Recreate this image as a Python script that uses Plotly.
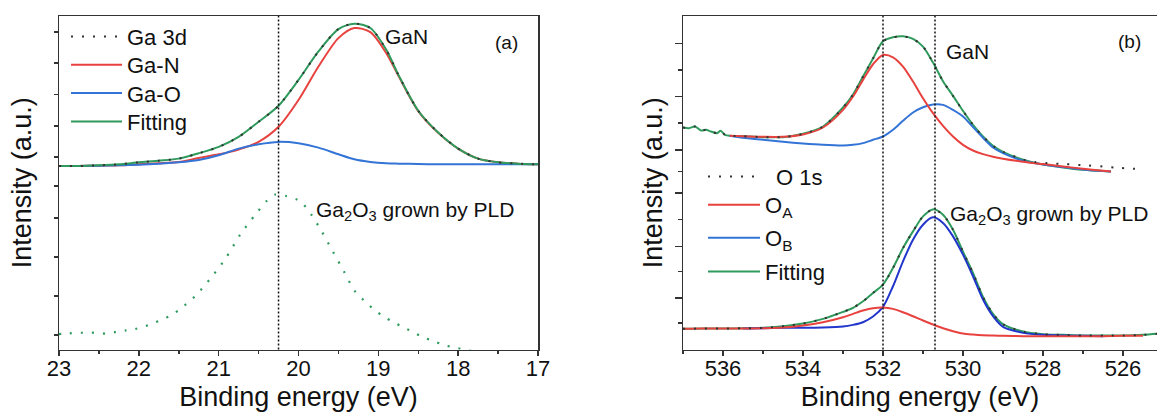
import plotly.graph_objects as go

# ================= panel (a): Ga 3d =================
ev_a = [23.0, 22.75, 22.5, 22.25, 22.0, 21.75, 21.5, 21.25, 21.0, 20.75, 20.5, 20.25, 20.0,
        19.75, 19.5, 19.3, 19.1, 18.9, 18.75, 18.5, 18.25, 18.0, 17.75, 17.5, 17.25, 17.0]
ga3d_data_a = [548, 548, 550, 553, 559, 564, 570, 586, 605, 635, 680, 728, 805,
               890, 957, 973, 960, 895, 821, 713, 648, 600, 570, 559, 555, 553]
gaN_a = [548, 548, 549, 550, 553, 556, 560, 572, 583, 597, 620, 665, 745,
         845, 930, 960, 948, 885, 818, 712, 647, 600, 570, 559, 555, 553]
gaO_a = [548, 548, 549, 550, 552, 555, 559, 566, 580, 600, 613, 620, 616,
         603, 583, 568, 560, 556, 555, 554, 553, 553, 553, 553, 553, 553]
fit_a = [548, 548, 550, 553, 559, 564, 570, 586, 605, 635, 680, 728, 805,
         890, 957, 973, 960, 895, 821, 713, 648, 600, 570, 559, 555, 553]

ev_pld_a = [23.0, 22.88, 22.74, 22.63, 22.51, 22.4, 22.28, 22.16, 22.05, 21.93, 21.82, 21.7,
            21.59, 21.47, 21.28, 21.1, 20.91, 20.73, 20.54, 20.4, 20.29, 20.15, 19.98, 19.84,
            19.71, 19.57, 19.43, 19.29, 19.14, 19.05, 18.93, 18.82, 18.7, 18.59, 18.45, 18.31,
            18.17, 18.03, 17.89, 17.75, 17.61]
pld_a = [46, 48, 50, 50, 50, 47, 53, 57, 61, 69, 78, 91,
         103, 123, 163, 213, 273, 343, 403, 443, 463, 458, 443, 403,
         353, 293, 233, 173, 138, 118, 98, 83, 68, 55, 38, 25,
         13, 5, -2, -5, -7]
vline_a = [20.25]
xticks_a = [23, 22, 21, 20, 19, 18, 17]
xminor_a = [22.5, 21.5, 20.5, 19.5, 18.5, 17.5]
yticks_a = [948, 855, 761, 668, 575, 488, 393, 276, 160, 43]

# ================= panel (b): O 1s =================
ev_noise_b = [537.0, 536.85, 536.7, 536.55, 536.43, 536.3, 536.15, 536.06, 535.95]
noise_b = [667, 665, 670, 658, 660, 655, 650, 657, 645]
ev_top_b = [535.83, 535.5, 535.0, 534.5, 534.0, 533.5, 533.0, 532.75, 532.5, 532.25, 532.0,
            531.75, 531.5, 531.25, 531.0, 530.75, 530.5, 530.25, 530.0, 529.75, 529.5,
            529.25, 529.0, 528.5, 528.0, 527.5, 527.0, 526.5, 526.3]
fit_top_b = [642, 641, 638, 638, 648, 670, 727, 766, 820, 874, 926,
             938, 941, 933, 910, 862, 806, 762, 717, 675, 640,
             612, 594, 570, 556, 547, 540, 536, 535]
oA_top_b = [642, 641, 639, 639, 646, 667, 720, 760, 810, 857, 885,
            878, 850, 805, 755, 710, 672, 640, 615, 598, 587,
            579, 573, 564, 557, 550, 543, 537, 535]
oB_top_b = [642, 636, 630, 624, 619, 615, 613, 615, 620, 630, 640,
            660, 687, 712, 728, 736, 735, 720, 700, 668, 636,
            607, 590, 567, 556, 548, 541, 536, 535]
ev_data_top_b = [537.0, 536.85, 536.7, 536.55, 536.43, 536.3, 536.15, 536.06, 535.95,
                 535.83, 535.5, 535.0, 534.5, 534.0, 533.5, 533.0, 532.75, 532.5, 532.25, 532.0,
                 531.75, 531.5, 531.25, 531.0, 530.75, 530.5, 530.25, 530.0, 529.75, 529.5,
                 529.25, 529.0, 528.5, 528.2, 527.9, 527.45, 526.9, 526.5, 526.15, 525.7]
data_top_b = [667, 665, 670, 658, 660, 655, 650, 657, 645,
              642, 641, 638, 638, 648, 670, 727, 766, 820, 874, 926,
              938, 941, 933, 910, 862, 806, 762, 717, 675, 640,
              612, 594, 571, 563, 560, 557, 553, 550, 546, 543]

ev_bot_b = [537.0, 536.5, 536.0, 535.5, 535.0, 534.5, 534.0, 533.5, 533.0, 532.75, 532.5,
            532.25, 532.0, 531.75, 531.5, 531.25, 531.0, 530.75, 530.5, 530.25, 530.0,
            529.75, 529.5, 529.25, 529.0, 528.5, 528.0, 527.5, 527.0, 526.5, 526.0, 525.5, 525.15]
fit_bot_b = [62, 63, 63, 64, 65, 70, 78, 92, 113, 125, 145,
             170, 195, 245, 305, 355, 400, 421, 405, 360, 294,
             230, 158, 107, 76, 54, 46, 44, 42, 42, 42, 44, 47]
data_bot_b = [62, 63, 63, 64, 65, 70, 78, 92, 113, 125, 145,
              170, 195, 245, 305, 355, 400, 421, 405, 360, 294,
              230, 158, 107, 76, 54, 46, 44, 42, 42, 42, 44, 47]
oA_bot_b = [62, 63, 63, 63, 64, 66, 72, 82, 97, 107, 117,
            124, 126, 122, 112, 100, 87, 75, 64, 55, 48,
            45, 43, 42, 41, 40, 40, 40, 40, 40, 41, 41]
ev_oB_bot_b = [535.5, 535.0, 534.5, 534.0, 533.5, 533.0, 532.75, 532.5, 532.25, 532.0,
               531.75, 531.5, 531.25, 531.0, 530.75, 530.5, 530.25, 530.0, 529.75, 529.5,
               529.25, 529.0, 528.5, 528.0, 527.5, 527.0, 526.5]
oB_bot_b = [63, 64, 65, 65, 66, 69, 74, 82, 99, 128,
            190, 265, 330, 375, 397, 380, 340, 285, 220, 150,
            100, 68, 50, 44, 42, 41, 40]
vlines_b = [532.0, 530.7]
xticks_b = [536, 534, 532, 530, 528, 526]
xminor_b = [537, 535, 533, 531, 529, 527, 525]
ymajor_b = [920, 760, 600, 470, 310, 155]
yminor_b = [840, 680, 535, 390, 235, 80]

RED = "#E8423F"
BLUE = "#3374D6"
DBLUE = "#2236CC"
GREEN = "#2E9A5C"
FONT = "Arial, Liberation Sans, sans-serif"
DOT = "2px,9px"

W, H = 1157, 412

fig = go.Figure()

# one single-entry legend per row, so the rows can sit where the reference has them
legend_rows = {
    "legend": (66, 36.7), "legend2": (66, 65), "legend3": (66, 93.3), "legend4": (66, 121.7),
    "legend5": (703, 176.7), "legend6": (703, 205), "legend7": (703, 238), "legend8": (703, 271.7),
}
legend_itemwidth = {"legend": 51, "legend2": 51, "legend3": 51, "legend4": 51,
                    "legend5": 52, "legend6": 52, "legend7": 52, "legend8": 52}


def add(x, y, color, name=None, xa="x", ya="y", dash="solid", width=2, legend=None):
    fig.add_trace(go.Scatter(
        x=x, y=y, mode="lines", name=name, xaxis=xa, yaxis=ya,
        line=dict(color=color, width=width, dash=dash, shape="spline", smoothing=0.8),
        showlegend=legend is not None, legend=legend or "legend",
        hoverinfo="skip"))


# panel (a)
add(ev_pld_a, pld_a, GREEN, dash=DOT, width=2.2)
add(ev_a, gaN_a, RED, "Ga-N", legend="legend2")
add(ev_a, gaO_a, BLUE, "Ga-O", legend="legend3")
add(ev_a, fit_a, GREEN, "Fitting", legend="legend4")
add(ev_a, ga3d_data_a, "#333333", "Ga 3d", dash=DOT, width=2, legend="legend")

# panel (b)
add(ev_noise_b + ev_top_b, noise_b + fit_top_b, GREEN, "Fitting", xa="x2", ya="y2", legend="legend8")
add(ev_top_b, oB_top_b, BLUE, "O<sub>B</sub>", xa="x2", ya="y2", legend="legend7")
add(ev_top_b, oA_top_b, RED, "O<sub>A</sub>", xa="x2", ya="y2", legend="legend6")
add(ev_data_top_b, data_top_b, "#333333", "\u2002O 1s", xa="x2", ya="y2", dash=DOT, legend="legend5")
add(ev_bot_b, fit_bot_b, GREEN, xa="x2", ya="y2")
add(ev_oB_bot_b, oB_bot_b, DBLUE, xa="x2", ya="y2")
add(ev_bot_b[:len(oA_bot_b)], oA_bot_b, RED, xa="x2", ya="y2")
add(ev_bot_b, data_bot_b, "#333333", xa="x2", ya="y2", dash=DOT)

# vertical reference lines
for v in vline_a:
    fig.add_shape(type="line", xref="x", yref="y domain", x0=v, x1=v, y0=0, y1=1,
                  line=dict(color="#111", width=1.5, dash="2px,2px"))
for v in vlines_b:
    fig.add_shape(type="line", xref="x2", yref="y2 domain", x0=v, x1=v, y0=0, y1=1,
                  line=dict(color="#111", width=1.5, dash="2px,2px"))

ybot = (H - 349.5) / H
ytop = (H - 16) / H

axis_common = dict(showline=True, mirror=True, linecolor="#333", linewidth=1.5,
                   showgrid=False, zeroline=False, ticks="outside", tickcolor="#333",
                   tickwidth=1.5, automargin=False,
                   tickfont=dict(family=FONT, size=22, color="#111"))

layout = dict(
    width=W, height=H, margin=dict(l=0, r=0, t=0, b=0, autoexpand=False),
    paper_bgcolor="white", plot_bgcolor="white",
    font=dict(family=FONT, color="#111"),
    xaxis=dict(domain=[59 / W, 538 / W], range=[23, 17], tickvals=xticks_a, ticklen=5,
               ticklabelstandoff=-6,
               minor=dict(tickvals=xminor_a, ticklen=3, ticks="outside", tickcolor="#333"),
               title=dict(text="Binding energy (eV)", font=dict(size=27), standoff=8),
               anchor="y", **axis_common),
    yaxis=dict(domain=[ybot, ytop], range=[0, 996], tickvals=yticks_a, showticklabels=False,
               ticklen=4, title=dict(text="Intensity (a.u.)", font=dict(size=27), standoff=14),
               anchor="x", **axis_common),
    xaxis2=dict(domain=[683 / W, 1.0], range=[537, 525.15], tickvals=xticks_b, ticklen=5,
                ticklabelstandoff=-6,
                minor=dict(tickvals=xminor_b, ticklen=3, ticks="outside", tickcolor="#333"),
                title=dict(text="Binding energy (eV)", font=dict(size=27), standoff=8),
                anchor="y2", **axis_common),
    yaxis2=dict(domain=[ybot, ytop], range=[0, 1002], tickvals=ymajor_b, showticklabels=False,
                ticklen=7, minor=dict(tickvals=yminor_b, ticklen=4, ticks="outside", tickcolor="#333"),
                title=dict(text="Intensity (a.u.)", font=dict(size=27), standoff=4),
                anchor="x2", **axis_common),
    showlegend=True,
)
for key, (px, py) in legend_rows.items():
    layout[key] = dict(x=px / W, y=1 - py / H, xanchor="left", yanchor="middle",
                       bgcolor="rgba(0,0,0,0)", borderwidth=0, itemwidth=legend_itemwidth[key],
                       font=dict(family=FONT, size=22, color="#111"))
fig.update_layout(**layout)

ann = dict(showarrow=False, font=dict(family=FONT, size=21, color="#111"))
fig.add_annotation(x=18.65, y=935, xref="x", yref="y", text="GaN", xanchor="center", **ann)
fig.add_annotation(x=17.39, y=917, xref="x", yref="y", text="(a)", xanchor="center",
                   **{**ann, "font": dict(family=FONT, size=19, color="#111")})
fig.add_annotation(x=19.8, y=413, xref="x", yref="y", text="Ga<sub>2</sub>O<sub>3</sub> grown by PLD",
                   xanchor="left", **ann)
fig.add_annotation(x=530.48, y=894, xref="x2", yref="y2", text="GaN", xanchor="left", **ann)
fig.add_annotation(x=525.83, y=924, xref="x2", yref="y2", text="(b)", xanchor="center",
                   **{**ann, "font": dict(family=FONT, size=19, color="#111")})
fig.add_annotation(x=530.38, y=405, xref="x2", yref="y2", text="Ga<sub>2</sub>O<sub>3</sub> grown by PLD",
                   xanchor="left", **ann)

fig.write_html("out.html", config={"displayModeBar": False, "staticPlot": True},
               post_script="document.body.style.margin='0';document.body.style.padding='0';"
                           "document.documentElement.style.overflow='hidden';")
